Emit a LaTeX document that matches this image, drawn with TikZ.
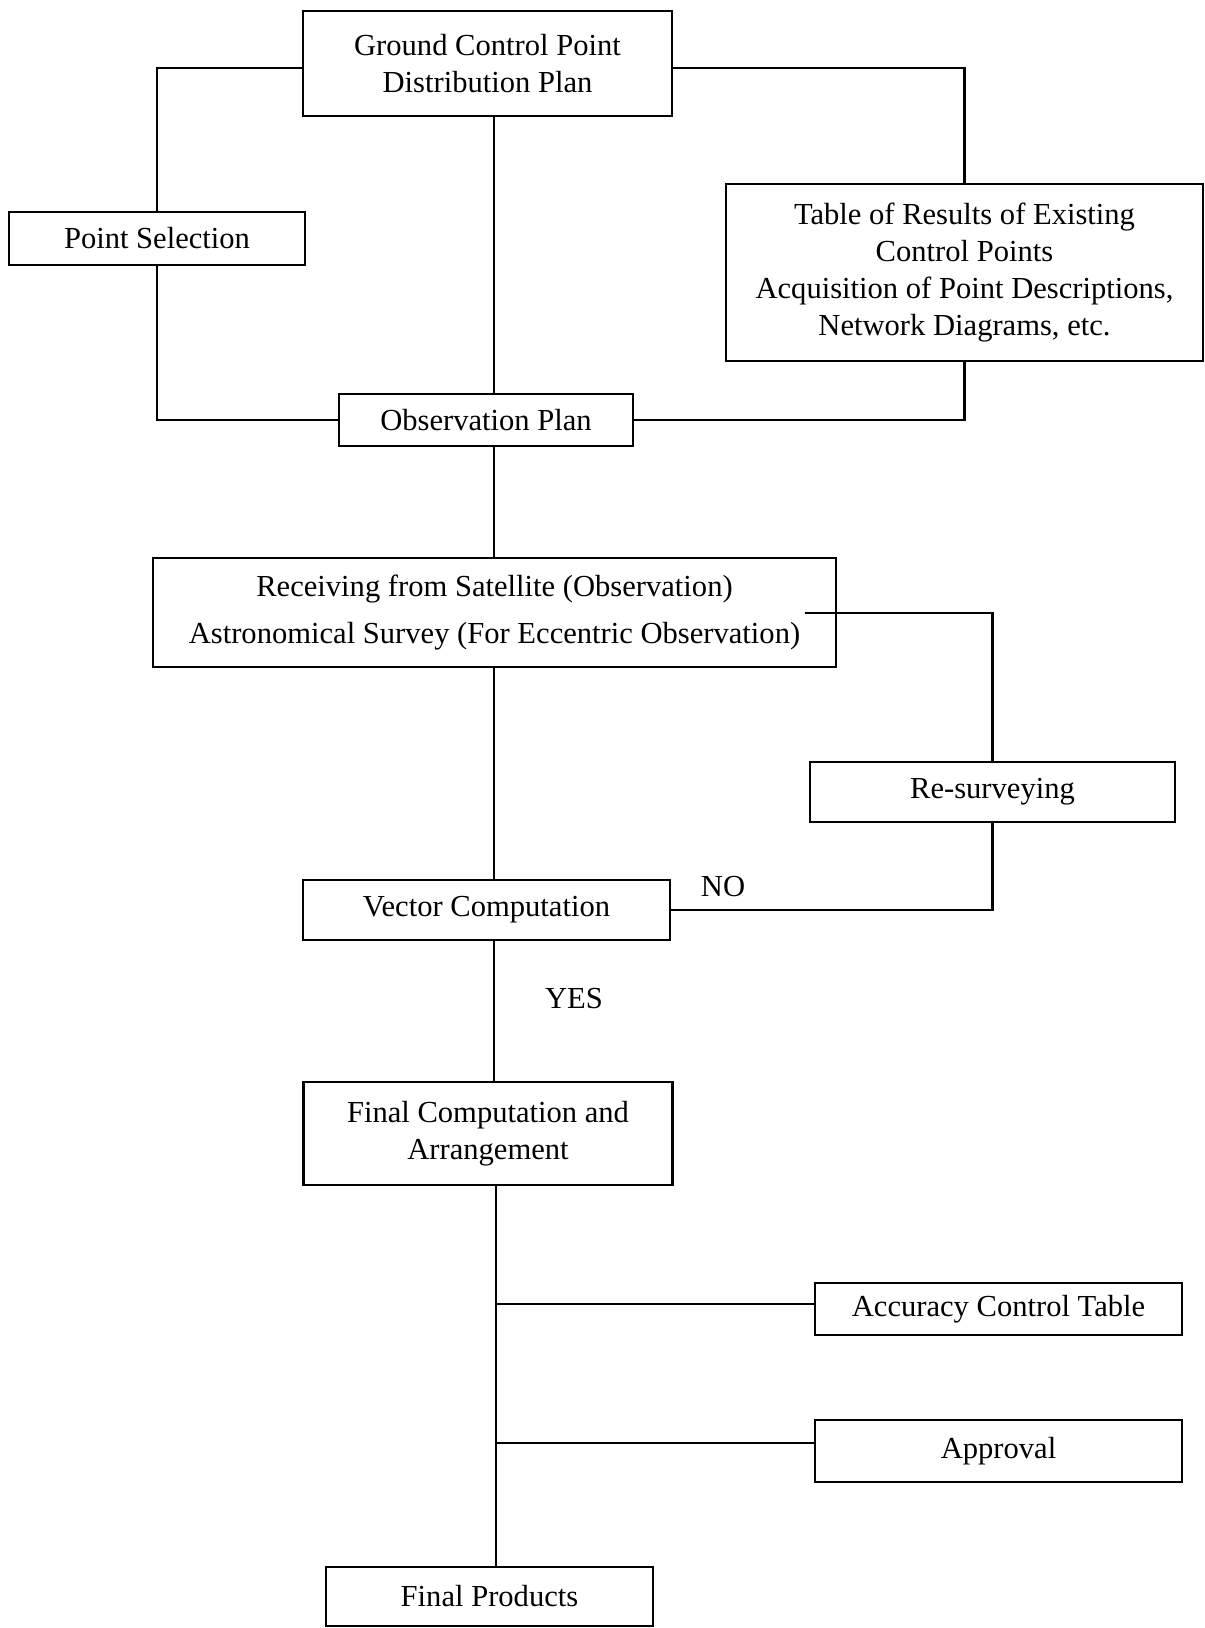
\documentclass[tikz,border=0pt]{standalone}
\usepackage{fontspec}
\setmainfont{Liberation Serif}
\usepackage{tikz}

\begin{document}
\begin{tikzpicture}
\tikzset{every node/.style={font=\fontsize{8.7}{10.6}\selectfont}}
\tikzset{stage/.style={draw,line width=0.6pt,align=center,inner sep=0pt}}
\tikzset{link/.style={line width=0.6pt}}
\useasboundingbox (0,0) rectangle (12.05,16.28);
 \node[stage,minimum width=3.69cm,minimum height=1.05cm] (gcp) at (4.875,15.645) {Ground Control Point\\Distribution Plan};
 \node[stage,minimum width=2.96cm,minimum height=0.53cm] (pointsel) at (1.57,13.895) {Point Selection};
 \node[stage,minimum width=4.77cm,minimum height=1.77cm] (table) at (9.645,13.555) {Table of Results of Existing\\Control Points\\Acquisition of Point Descriptions,\\Network Diagrams, etc.};
 \node[stage,minimum width=2.94cm,minimum height=0.52cm] (obs) at (4.86,12.08) {Observation Plan};
 \node[stage,minimum width=6.83cm,minimum height=1.09cm] (recv) at (4.945,10.155) {Receiving from Satellite (Observation)\\[2.8pt]Astronomical Survey (For Eccentric Observation)};
 \node[stage,minimum width=3.65cm,minimum height=0.60cm] (resurvey) at (9.925,8.36) {Re-surveying};
 \node[stage,minimum width=3.67cm,minimum height=0.60cm] (vector) at (4.865,7.18) {Vector Computation};
 \node[stage,minimum width=3.69cm,minimum height=1.03cm] (final) at (4.88,4.945) {Final Computation and\\Arrangement};
 \node[stage,minimum width=3.67cm,minimum height=0.52cm] (accuracy) at (9.985,3.19) {Accuracy Control Table};
 \node[stage,minimum width=3.67cm,minimum height=0.62cm] (approval) at (9.985,1.77) {Approval};
 \node[stage,minimum width=3.27cm,minimum height=0.59cm] (products) at (4.895,0.315) {Final Products};
 \node (no) at (7.23,7.41) {NO};
 \node (yes) at (5.74,6.29) {YES};
 % loops round the plan
 \draw[link] ([yshift=-0.045cm]gcp.west) -| (pointsel.north);
 \draw[link] (pointsel.south) |- (obs.west);
 \draw[link] ([yshift=-0.045cm]gcp.east) -| (table.north);
 \draw[link] (table.south) |- (obs.east);
 % main line
 \coordinate (spine) at (4.94,0);
 \coordinate (spinelow) at (4.96,0);
 \draw[link] (gcp.south -| spine) -- (obs.north -| spine);
 \draw[link] (obs.south -| spine) -- (recv.north -| spine);
 \draw[link] (recv.south -| spine) -- (vector.north -| spine);
 \draw[link] (vector.south -| spine) -- (final.north -| spine);
 \draw[link] (final.south -| spinelow) -- (products.north -| spinelow);
 % re-surveying loop
 \coordinate (recvout) at (8.05,10.15);
 \draw[link] (recvout) -| (resurvey.north);
 \draw[link] (resurvey.south) |- (vector.east);
 \draw[link] ([yshift=0.05cm]spinelow |- accuracy.west) -- ([yshift=0.05cm]accuracy.west);
 \draw[link] ([yshift=0.08cm]spinelow |- approval.west) -- ([yshift=0.08cm]approval.west);
\end{tikzpicture}
\end{document}
